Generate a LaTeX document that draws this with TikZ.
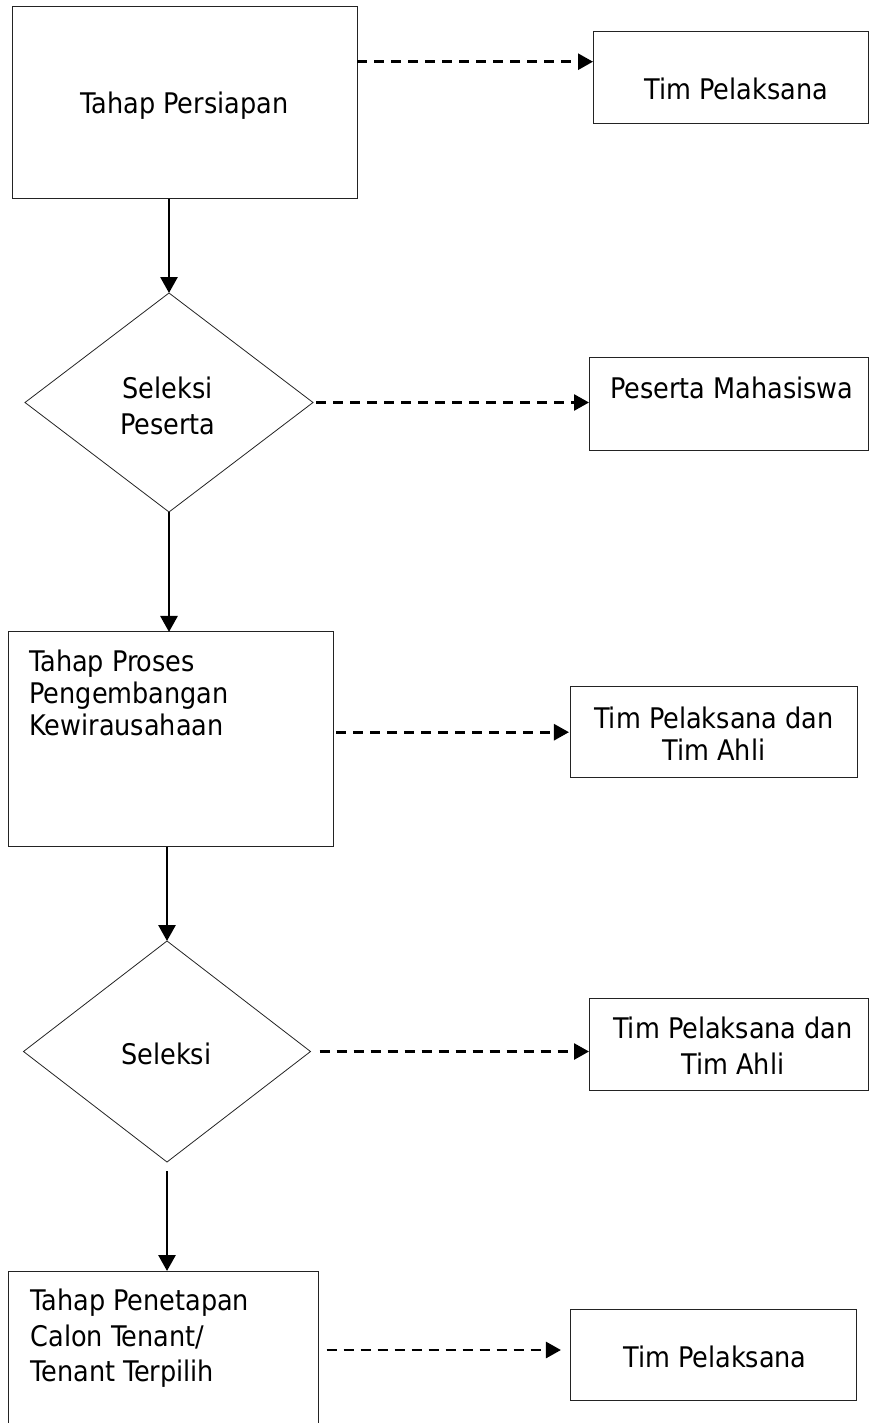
\documentclass[tikz,border=0pt]{standalone}
\usepackage{fontspec}
\setmainfont{DejaVu Sans Condensed}
\usepackage{tikz}
\usetikzlibrary{arrows.meta,shapes.geometric,calc}
\definecolor{flowBlack}{RGB}{0,0,0}
\definecolor{boxGray}{RGB}{35,35,35}

\begin{document}
\begin{tikzpicture}[x=1pt,y=-1pt,
  stagebox/.style={draw=boxGray, line width=1pt, inner sep=0pt, outer sep=0pt},
  decide/.style={diamond, draw=boxGray, line width=0.8pt, inner sep=0pt, outer sep=0pt},
  lbl/.style={font=\fontsize{28.4}{35.5}\selectfont, inner sep=0pt},
  lbltight/.style={font=\fontsize{28.4}{31.7}\selectfont, inner sep=0pt},
  flow/.style={flowBlack, line width=2.8pt, -{Triangle[length=16pt,width=17pt]}},
  link/.style={flowBlack, line width=2.7pt, dash pattern=on 10pt off 7pt, -{Triangle[length=15pt,width=16pt]}}]
\clip (0,0) rectangle (869,1423);
\node[stagebox, minimum width=345pt, minimum height=192pt] (persiapan) at (184.5,103) {};
\node[stagebox, minimum width=275.5pt, minimum height=91.6pt] (tim1) at (730.75,77.5) {};
\node[decide, minimum width=288pt, minimum height=219pt] (seleksi1) at (169,402.5) {};
\node[stagebox, minimum width=279pt, minimum height=92.3pt] (peserta) at (728.5,403.9) {};
\node[stagebox, minimum width=324.7pt, minimum height=214.7pt] (proses) at (170.7,739.3) {};
\node[stagebox, minimum width=286.5pt, minimum height=91pt] (timahli1) at (714.2,732.2) {};
\node[decide, minimum width=287pt, minimum height=221pt] (seleksi2) at (167,1051.5) {};
\node[stagebox, minimum width=279pt, minimum height=92.4pt] (timahli2) at (728.5,1044.5) {};
\node[stagebox, minimum width=310.4pt, minimum height=229pt] (penetapan) at (163.5,1385.5) {};
\node[stagebox, minimum width=285.5pt, minimum height=90.7pt] (tim2) at (713.7,1355.3) {};

\node[lbl, anchor=base] (persiapanT) at (184.5,113.3) {Tahap Persiapan};
\node[lbl, anchor=base] (tim1T) at (736.4,99.3) {Tim Pelaksana};
\node[lbl, align=center, anchor=base] (seleksi1T) at (167.7,434) {Seleksi\\Peserta};
\node[lbl, anchor=base] (pesertaT) at (731.7,398.3) {Peserta Mahasiswa};
\node[lbltight, align=left, anchor=base west] (prosesT) at (29.3,735.1) {Tahap Proses\\Pengembangan\\Kewirausahaan};
\node[lbltight, align=center, anchor=base] (timahli1T) at (714,760) {Tim Pelaksana dan\\Tim Ahli};
\node[lbl, anchor=base] (seleksi2T) at (166.3,1064.3) {Seleksi};
\node[lbl, align=center, anchor=base] (timahli2T) at (733,1074.3) {Tim Pelaksana dan\\Tim Ahli};
\node[lbl, align=left, anchor=base west] (penetapanT) at (30.5,1381.7) {Tahap Penetapan\\Calon Tenant/\\Tenant Terpilih};
\node[lbl, anchor=base] (tim2T) at (715,1367.3) {Tim Pelaksana};

\draw[flow] (seleksi1.north |- persiapan.south) -- (seleksi1.north);
\draw[flow] (seleksi1.south) -- (seleksi1.south |- proses.north);
\draw[flow] (seleksi2.north |- proses.south) -- (seleksi2.north);
\draw[flow] ([yshift=-9pt]seleksi2.south) -- (seleksi2.south |- penetapan.north);

\coordinate (in1) at ([yshift=15.8pt]tim1.west);
\coordinate (in5) at ([yshift=5.3pt]tim2.west);
\draw[link] (persiapan.east |- in1) -- (in1);
\draw[link, shorten <=3pt] (seleksi1.east) -- (seleksi1.east -| peserta.west);
\draw[link, shorten <=3pt, shorten >=2pt] (proses.east |- timahli1.west) -- (timahli1.west);
\draw[link, shorten <=9pt] (seleksi2.east) -- (seleksi2.east -| timahli2.west);
\draw[link, shorten <=8pt, shorten >=10pt] (penetapan.east |- in5) -- (in5);
\end{tikzpicture}
\end{document}
